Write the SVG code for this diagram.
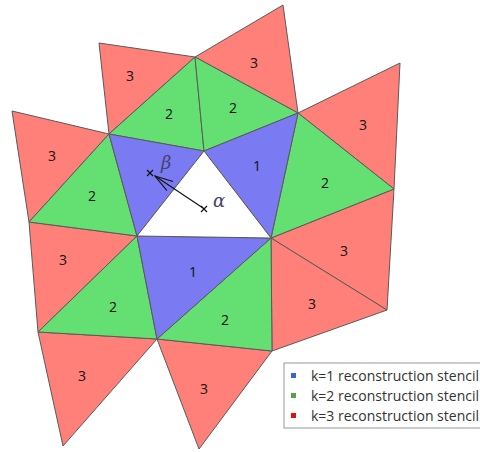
<svg xmlns="http://www.w3.org/2000/svg" width="480" height="452" viewBox="0 0 480 452">
<style>
.t{stroke:#5a5a5a;stroke-width:1;stroke-linejoin:round}
.r{fill:#FF8078}
.g{fill:#64DF72}
.b{fill:#7A7AF2}
.n{font-family:"Open Sans","Liberation Sans",sans-serif;font-size:14px;fill:#111;text-anchor:middle;dominant-baseline:central}
.lg{font-family:"Open Sans","Liberation Sans",sans-serif;font-size:14px;fill:#333}
.gr{font-family:"DejaVu Serif","Liberation Serif",serif;font-style:italic;font-size:18px;fill:#44446a}
.mk{stroke:#111;stroke-width:1.2}
</style>
<defs>
<marker id="ah" viewBox="0 0 20 12" refX="19" refY="6" markerWidth="20" markerHeight="12" markerUnits="userSpaceOnUse" orient="auto">
<path d="M1,0.5 L19,6 L1,11.5" fill="none" stroke="#111" stroke-width="1.1"/>
</marker>
</defs>
<rect width="480" height="452" fill="#fff"/>
<g id="mesh">
<g id="r1"><polygon class="t r" points="99,43 195,57 109,134"/><text class="n" x="130" y="75">3</text></g>
<g id="r2"><polygon class="t r" points="195,57 283,5 298,113"/><text class="n" x="254" y="62">3</text></g>
<g id="r3"><polygon class="t r" points="298,113 400,63 394,189"/><text class="n" x="363" y="124">3</text></g>
<g id="r4"><polygon class="t r" points="12,111 109,134 29,222"/><text class="n" x="52" y="155">3</text></g>
<g id="r5"><polygon class="t r" points="271,238 394,189 387,310"/><text class="n" x="344" y="250">3</text></g>
<g id="r6"><polygon class="t r" points="271,238 387,310 272,351"/><text class="n" x="312" y="303">3</text></g>
<g id="r7"><polygon class="t r" points="29,222 137,236 38,332"/><text class="n" x="63" y="259">3</text></g>
<g id="r8"><polygon class="t r" points="38,332 157,339 63,446"/><text class="n" x="82" y="375">3</text></g>
<g id="r9"><polygon class="t r" points="157,339 272,351 199,449"/><text class="n" x="204" y="388">3</text></g>
<g id="g1"><polygon class="t g" points="109,134 195,57 204,151"/><text class="n" x="169" y="113">2</text></g>
<g id="g2"><polygon class="t g" points="195,57 298,113 204,151"/><text class="n" x="233" y="107">2</text></g>
<g id="g3"><polygon class="t g" points="109,134 29,222 137,236"/><text class="n" x="92" y="195">2</text></g>
<g id="g4"><polygon class="t g" points="298,113 394,189 271,238"/><text class="n" x="325" y="182">2</text></g>
<g id="g5"><polygon class="t g" points="137,236 38,332 157,339"/><text class="n" x="113" y="306">2</text></g>
<g id="g6"><polygon class="t g" points="271,238 157,339 272,351"/><text class="n" x="225" y="319">2</text></g>
<g id="b1"><polygon class="t b" points="109,134 204,151 137,236"/></g>
<g id="b2"><polygon class="t b" points="204,151 298,113 271,238"/><text class="n" x="257" y="165">1</text></g>
<g id="b3"><polygon class="t b" points="137,236 271,238 157,339"/><text class="n" x="193" y="271">1</text></g>
<g id="c0"><polygon class="t" fill="#fff" points="204,151 271,238 137,236"/></g>
</g>
<g id="connectors">
<line x1="203" y1="208" x2="155" y2="176" stroke="#111" stroke-width="1.2" marker-end="url(#ah)"/>
</g>
<g id="points">
<path class="mk" d="M147,170 L153,176 M153,170 L147,176"/>
<path class="mk" d="M201,206 L207,212 M207,206 L201,212"/>
<text class="gr" x="161" y="169">β</text>
<text class="gr" x="213" y="207">α</text>
</g>
<g id="legend">
<rect x="284" y="363" width="200" height="65" fill="#fff" stroke="#999" stroke-width="1"/>
<rect x="291" y="373" width="5" height="5" fill="#3a64d6"/>
<rect x="291" y="393" width="5" height="5" fill="#52a34a"/>
<rect x="291" y="413" width="5" height="5" fill="#e01010"/>
<text class="lg" x="311" y="381" textLength="168" lengthAdjust="spacingAndGlyphs">k=1 reconstruction stencil</text>
<text class="lg" x="311" y="401" textLength="168" lengthAdjust="spacingAndGlyphs">k=2 reconstruction stencil</text>
<text class="lg" x="311" y="421" textLength="168" lengthAdjust="spacingAndGlyphs">k=3 reconstruction stencil</text>
</g>
</svg>
